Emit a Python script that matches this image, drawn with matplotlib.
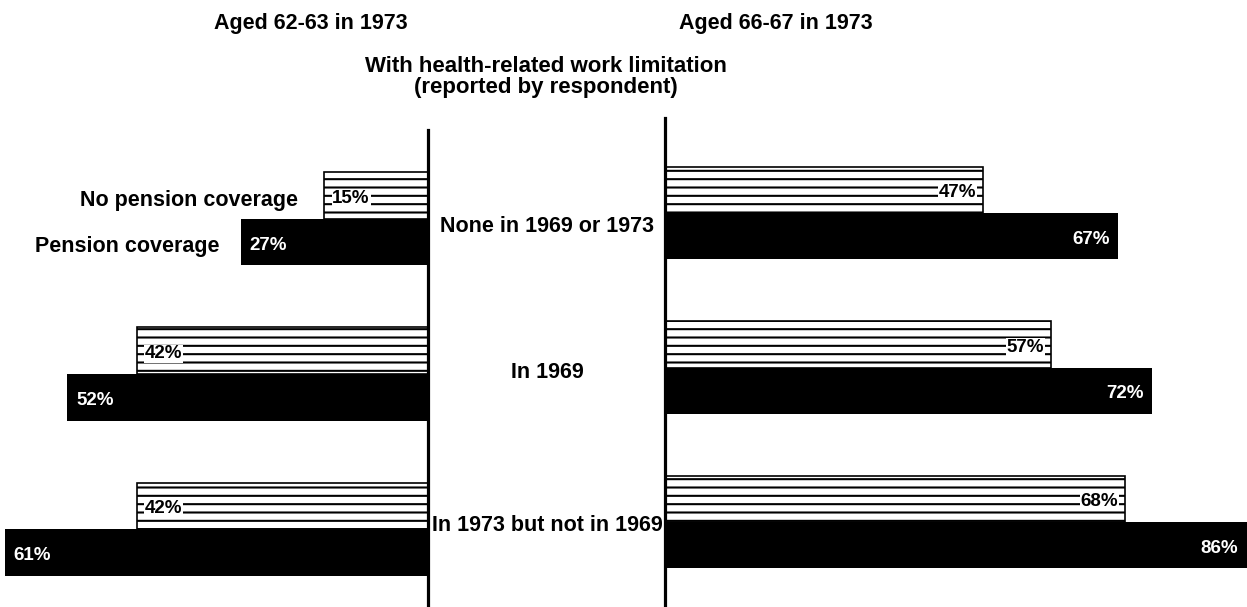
import numpy as np
import matplotlib.pyplot as plt
from matplotlib.transforms import blended_transform_factory

plt.rcParams['font.family'] = ['Liberation Sans', 'DejaVu Sans']
plt.rcParams['hatch.linewidth'] = 1.5

# %% data -----

groups = ['None in 1969 or 1973', 'In 1969', 'In 1973 but not in 1969']
young_no_pension = [15, 42, 42]
young_pension = [27, 52, 61]
old_no_pension = [47, 57, 68]
old_pension = [67, 72, 86]

# %% plot -----

W, H = 1247, 607
fig = plt.figure(figsize=(W / 100, H / 100), dpi=100)

ax_l = fig.add_axes([0, 0, 428 / W, (H - 130) / H])
ax_r = fig.add_axes([665 / W, 0, 582 / W, (H - 118) / H])

bh = 0.3
y = np.arange(len(groups))

for ax, no_p, p, ylim in (
        (ax_l, young_no_pension, young_pension, (2.503, -0.574)),
        (ax_r, old_no_pension, old_pension, (2.55, -0.615))):
    ax.barh(y - bh / 2, no_p, height=bh, facecolor='white', edgecolor='black',
            hatch='--', linewidth=1.2)
    ax.barh(y + bh / 2, p, height=bh, color='black')
    ax.set_ylim(*ylim)
    ax.set_xticks([])
    ax.set_yticks([])
    for s in ax.spines.values():
        s.set_visible(False)

ax_l.set_xlim(61.7, 0)
ax_r.set_xlim(0, 86)
ax_l.spines['right'].set_visible(True)
ax_l.spines['right'].set_linewidth(2.3)
ax_r.spines['left'].set_visible(True)
ax_r.spines['left'].set_linewidth(2.3)

val = dict(fontsize=13.5, fontweight='bold', va='center')
lbl = dict(fontsize=15.5, fontweight='bold', va='center')
box = dict(facecolor='white', edgecolor='none', pad=0.5)
dy = 0.02  # text sits a touch below bar centres

for i in range(len(groups)):
    # left panel, bars grow to the left
    ax_l.text(young_no_pension[i] - 1.2, i - bh / 2 + dy, f'{young_no_pension[i]}%',
              ha='left', bbox=box, **val)
    ax_l.text(young_pension[i] - 1.3, i + bh / 2 + dy, f'{young_pension[i]}%',
              ha='left', color='white', **val)
    # right panel
    ax_r.text(old_no_pension[i] - 1.0, i - bh / 2 + dy, f'{old_no_pension[i]}%',
              ha='right', bbox=box, **val)
    ax_r.text(old_pension[i] - 1.3, i + bh / 2 + dy, f'{old_pension[i]}%',
              ha='right', color='white', **val)

ax_l.text(young_no_pension[0] + 3.7, -bh / 2 + 0.03, 'No pension coverage', ha='right', **lbl)
ax_l.text(young_pension[0] + 3.1, bh / 2 + 0.03, 'Pension coverage', ha='right', **lbl)

mid = blended_transform_factory(fig.transFigure, ax_l.transData)
for i, (g, off) in enumerate(zip(groups, (0.05, -0.01, -0.02))):
    ax_l.text(547 / W, i + off, g, transform=mid, ha='center', clip_on=False, **lbl)

fig.text(311 / W, 1 - 23 / H, 'Aged 62-63 in 1973', ha='center', va='center',
         fontsize=15.5, fontweight='bold')
fig.text(776 / W, 1 - 23 / H, 'Aged 66-67 in 1973', ha='center', va='center',
         fontsize=15.5, fontweight='bold')
fig.text(546 / W, 1 - 77 / H, 'With health-related work limitation\n(reported by respondent)',
         ha='center', va='center', fontsize=16, fontweight='bold', linespacing=1.0)

fig.savefig('out.png', dpi=100)
